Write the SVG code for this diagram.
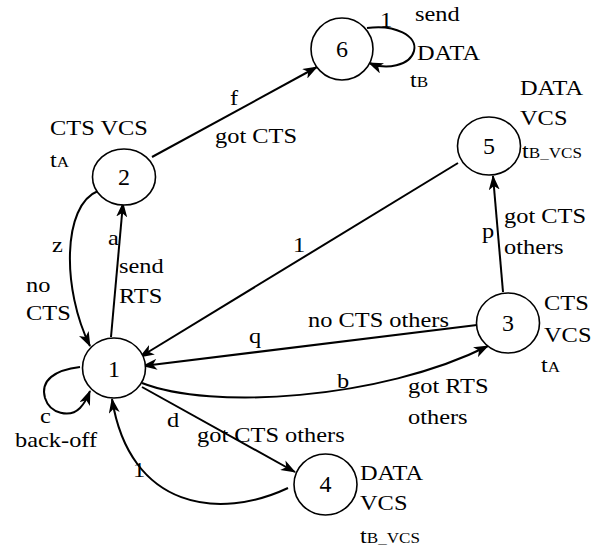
<svg xmlns="http://www.w3.org/2000/svg" width="608" height="552" viewBox="0 0 608 552">
<defs>
<style>
.node{fill:#fff;stroke:#000;stroke-width:1.6}
.num{font-family:'Liberation Serif','DejaVu Serif','Noto Serif',serif;font-size:24px;text-anchor:middle;fill:#000}
.lbl{font-family:'Liberation Serif','DejaVu Serif','Noto Serif',serif;font-size:20px;fill:#000}
.sub{font-size:14px}
.edge{fill:none;stroke:#000;stroke-width:2;marker-end:url(#arr)}
</style>
<marker id="arr" markerWidth="15" markerHeight="11" refX="14" refY="5.5" orient="auto" markerUnits="userSpaceOnUse">
<path d="M0,0 L15,5.5 L0,11 L4,5.5 z" fill="#000"/>
</marker>
</defs>
<rect width="608" height="552" fill="#fff"/>
<g id="connectors">
<path class="edge" d="M152,157 L317,67"/>
<path class="edge" d="M367,28 C395,24 418,36 414,51 C410,66 386,70 369,63"/>
<path class="edge" d="M98,191 C62,205 62,290 90,346"/>
<path class="edge" d="M111,337 L123,203"/>
<path class="edge" d="M458,163 L140,357"/>
<path class="edge" d="M503,292 L493,176"/>
<path class="edge" d="M477,325 L143,366"/>
<path class="edge" d="M142,383 C210,410 380,400 488,346"/>
<path class="edge" d="M142,387 L295,472"/>
<path class="edge" d="M288,488 C220,520 130,510 112,399"/>
<path class="edge" d="M80,367 C55,370 40,380 45,398 C50,414 70,418 80,408 C85,403 88,396 90,391"/>
</g>
<g id="node6"><ellipse class="node" cx="342" cy="49" rx="31" ry="31"/><text class="num" x="342" y="57">6</text></g>
<g id="node2"><ellipse class="node" cx="124" cy="177" rx="31.5" ry="28"/><text class="num" x="124" y="185">2</text></g>
<g id="node5"><ellipse class="node" cx="489" cy="146" rx="31.5" ry="29"/><text class="num" x="489" y="154">5</text></g>
<g id="node1"><ellipse class="node" cx="114" cy="368" rx="31.5" ry="30"/><text class="num" x="114" y="377">1</text></g>
<g id="node3"><ellipse class="node" cx="508" cy="323" rx="31.5" ry="30"/><text class="num" x="508" y="331">3</text></g>
<g id="node4"><ellipse class="node" cx="325.5" cy="484.5" rx="31.5" ry="30.5"/><text class="num" x="325.5" y="492">4</text></g>
<g id="labels">
<text class="lbl" transform="translate(380,27) scale(1.22,1)">1</text>
<text class="lbl" transform="translate(415,21) scale(1.22,1)">send</text>
<text class="lbl" transform="translate(417,60) scale(1.22,1)">DATA</text>
<text class="lbl" transform="translate(410,87) scale(1.22,1)">t<tspan class="sub">B</tspan></text>
<text class="lbl" transform="translate(50,135) scale(1.22,1)">CTS VCS</text>
<text class="lbl" transform="translate(50,167) scale(1.22,1)">t<tspan class="sub">A</tspan></text>
<text class="lbl" transform="translate(230,105) scale(1.22,1)">f</text>
<text class="lbl" transform="translate(215,143) scale(1.22,1)">got CTS</text>
<text class="lbl" transform="translate(520,95) scale(1.22,1)">DATA</text>
<text class="lbl" transform="translate(520,125) scale(1.22,1)">VCS</text>
<text class="lbl" transform="translate(522,158) scale(1.22,1)">t<tspan class="sub">B_VCS</tspan></text>
<text class="lbl" transform="translate(293,252) scale(1.22,1)">1</text>
<text class="lbl" transform="translate(482,238) scale(1.22,1)">p</text>
<text class="lbl" transform="translate(504,223) scale(1.22,1)">got CTS</text>
<text class="lbl" transform="translate(504,254) scale(1.22,1)">others</text>
<text class="lbl" transform="translate(544,310) scale(1.22,1)">CTS</text>
<text class="lbl" transform="translate(544,342) scale(1.22,1)">VCS</text>
<text class="lbl" transform="translate(541,372) scale(1.22,1)">t<tspan class="sub">A</tspan></text>
<text class="lbl" transform="translate(308,327) scale(1.22,1)">no CTS others</text>
<text class="lbl" transform="translate(249,343) scale(1.22,1)">q</text>
<text class="lbl" transform="translate(337,388) scale(1.22,1)">b</text>
<text class="lbl" transform="translate(408,393) scale(1.22,1)">got RTS</text>
<text class="lbl" transform="translate(408,424) scale(1.22,1)">others</text>
<text class="lbl" transform="translate(167,427) scale(1.22,1)">d</text>
<text class="lbl" transform="translate(197,442) scale(1.22,1)">got CTS others</text>
<text class="lbl" transform="translate(360,480) scale(1.22,1)">DATA</text>
<text class="lbl" transform="translate(360,510) scale(1.22,1)">VCS</text>
<text class="lbl" transform="translate(360,543) scale(1.22,1)">t<tspan class="sub">B_VCS</tspan></text>
<text class="lbl" transform="translate(133,477) scale(1.22,1)">1</text>
<text class="lbl" transform="translate(40,423) scale(1.22,1)">c</text>
<text class="lbl" transform="translate(15,447) scale(1.22,1)">back-off</text>
<text class="lbl" transform="translate(52,252) scale(1.22,1)">z</text>
<text class="lbl" transform="translate(26,292) scale(1.22,1)">no</text>
<text class="lbl" transform="translate(26,320) scale(1.22,1)">CTS</text>
<text class="lbl" transform="translate(108,245) scale(1.22,1)">a</text>
<text class="lbl" transform="translate(119,273) scale(1.22,1)">send</text>
<text class="lbl" transform="translate(119,303) scale(1.22,1)">RTS</text>
</g>
</svg>
